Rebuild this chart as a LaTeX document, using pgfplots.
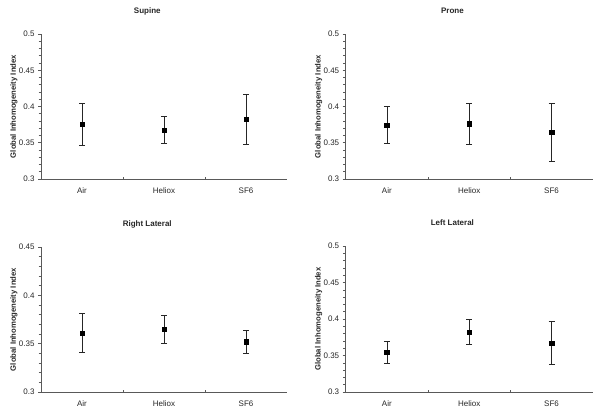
\documentclass[border=0pt]{standalone}
\usepackage{pgfplots}
\pgfplotsset{compat=1.18}
\usepackage{fontspec}
\setmainfont{Liberation Sans}
\definecolor{axgray}{gray}{0.35}
\definecolor{txt}{gray}{0.15}
\pgfplotsset{
  panel/.style={
    scale only axis,
    anchor=south west,
    axis x line*=bottom,
    axis y line*=left,
    axis line style={axgray, line width=0.7bp},
    xmin=0.5, xmax=3.5,
    xtick={1,2,3},
    xticklabels={Air,Heliox,SF6},
    minor xtick={1.5,2.5},
    major x tick style={draw=none},
    minor x tick style={axgray, line width=0.6bp, yshift=2.5bp},
    tick align=outside,
    major tick length=3bp,
    minor tick length=2.5bp,
    y tick style={axgray, line width=0.6bp},
    minor y tick num=4,
    ticklabel style={font=\fontsize{8bp}{9bp}\selectfont, text=txt},
    /pgf/number format/assume math mode=true,
    xticklabel style={yshift=-2bp},
    ylabel={Global Inhomogeneity Index},
    ylabel style={font=\bfseries\fontsize{7.7bp}{9bp}\selectfont, text=txt, at={(axis description cs:-0.11,0.5)}, anchor=center, rotate=0},
    title style={font=\bfseries\fontsize{8bp}{9bp}\selectfont, text=txt, at={(axis description cs:0.432,1)}, anchor=center, yshift=17bp},
    clip=false,
  },
  gii/.style={
    only marks, mark=square*, mark size=2.2bp, mark options={black},
    error bars/.cd, y dir=both, y explicit,
    error bar style={txt, line width=0.7bp},
    error mark options={txt, line width=0.7bp, mark size=3bp, rotate=90},
  },
}
\begin{document}
\begin{tikzpicture}
\path[use as bounding box] (0,0) rectangle (600bp,-419bp);
% Supine
\begin{axis}[panel, at={(41bp,-179bp)}, width=246bp, height=145bp,
  ymin=0.3, ymax=0.5, ytick={0.3,0.35,0.4,0.45,0.5},
  yticklabels={0.3,0.35,0.4,0.45,0.5}, title={Supine}]
\addplot[gii] coordinates {
  (1,0.3755) +- (0,0.0295)
  (2,0.3675) +- (0,0.0185)
  (3,0.3822) +- (0,0.0346)
};
\end{axis}
% Prone
\begin{axis}[panel, at={(345.7bp,-179bp)}, width=247bp, height=145bp,
  ymin=0.3, ymax=0.5, ytick={0.3,0.35,0.4,0.45,0.5},
  yticklabels={0.3,0.35,0.4,0.45,0.5}, title={Prone}]
\addplot[gii] coordinates {
  (1,0.3742) +- (0,0.0257)
  (2,0.3762) +- (0,0.0286)
  (3,0.3649) +- (0,0.0399)
};
\end{axis}
% Right Lateral
\begin{axis}[panel, at={(41bp,-392bp)}, width=246bp, height=145bp,
  ymin=0.3, ymax=0.45, ytick={0.3,0.35,0.4,0.45},
  yticklabels={0.3,0.35,0.4,0.45}, title={Right Lateral}]
\addplot[gii] coordinates {
  (1,0.3609) +- (0,0.0202)
  (2,0.3648) +- (0,0.0145)
  (3,0.3519) +- (0,0.0116)
};
\end{axis}
% Left Lateral
\begin{axis}[panel, at={(345.7bp,-392bp)}, width=247bp, height=146bp,
  ymin=0.3, ymax=0.5, ytick={0.3,0.35,0.4,0.45,0.5},
  yticklabels={0.3,0.35,0.4,0.45,0.5}, title={Left Lateral}]
\addplot[gii] coordinates {
  (1,0.3544) +- (0,0.0147)
  (2,0.3819) +- (0,0.0171)
  (3,0.3671) +- (0,0.0297)
};
\end{axis}
\end{tikzpicture}
\end{document}
